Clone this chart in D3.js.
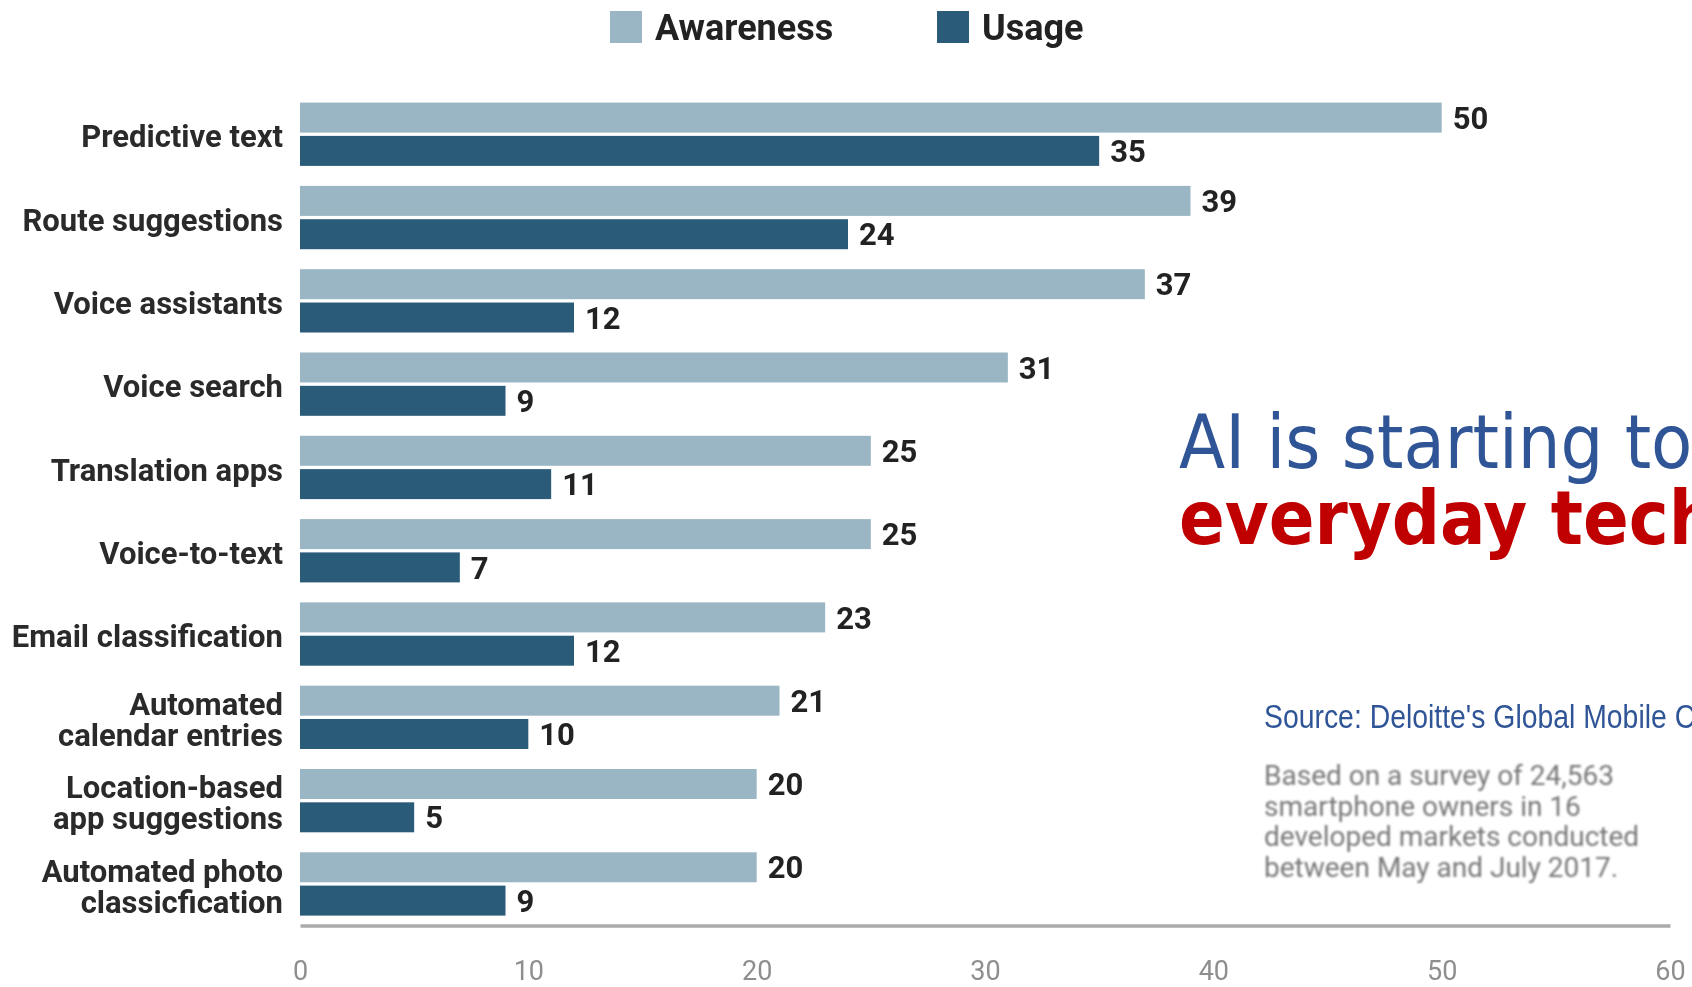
<!DOCTYPE html>
<html>
<head>
<meta charset="utf-8">
<script src="https://cdn.jsdelivr.net/npm/d3@7/dist/d3.min.js"></script>
<style>
  html, body { margin: 0; padding: 0; background: #fff; overflow: hidden; }
  svg { display: block; }
</style>
</head>
<body>
<svg id="chart" width="1692" height="987"></svg>
<script>
// Smartphone AI features: share of respondents aware of / using each feature (%)
const categories = [
  "Predictive text",
  "Route suggestions",
  "Voice assistants",
  "Voice search",
  "Translation apps",
  "Voice-to-text",
  "Email classification",
  "Automated calendar entries",
  "Location-based app suggestions",
  "Automated photo classicfication"
];
const categoryLines = [
  ["Predictive text"],
  ["Route suggestions"],
  ["Voice assistants"],
  ["Voice search"],
  ["Translation apps"],
  ["Voice-to-text"],
  ["Email classification"],
  ["Automated", "calendar entries"],
  ["Location-based", "app suggestions"],
  ["Automated photo", "classicfication"]
];
const seriesNames = ["Awareness", "Usage"];
const awareness = [50, 39, 37, 31, 25, 25, 23, 21, 20, 20];
const usage = [35, 24, 12, 9, 11, 7, 12, 10, 5, 9];
const xTicks = [0, 10, 20, 30, 40, 50, 60];

const titleLine1 = "AI is starting to";
const titleLine2 = "everyday tech";
const sourceText = "Source: Deloitte's Global Mobile Consumer Survey";
const noteLines = [
  "Based on a survey of 24,563",
  "smartphone owners in 16",
  "developed markets conducted",
  "between May and July 2017."
];

const colors = { Awareness: "#9ab5c3", Usage: "#295b79" };

const svg = d3.select("#chart");

const defs = svg.append("defs");
defs.append("filter").attr("id", "soft")
  .attr("x", "-5%").attr("y", "-5%").attr("width", "110%").attr("height", "110%")
  .append("feGaussianBlur").attr("stdDeviation", 0.6);
defs.append("filter").attr("id", "softer")
  .attr("x", "-5%").attr("y", "-10%").attr("width", "110%").attr("height", "120%")
  .append("feGaussianBlur").attr("stdDeviation", 0.9);

const rows = categories.map((c, i) => ({
  category: c,
  lines: categoryLines[i],
  values: [
    { series: "Awareness", value: awareness[i] },
    { series: "Usage", value: usage[i] }
  ]
}));

const x = d3.scaleLinear().domain([0, 60]).range([300, 1670]);
const y = d3.scaleBand().domain(categories).range([92.6, 925.6])
  .paddingInner(0.24).paddingOuter(0.12);
const ySub = d3.scaleBand().domain(seriesNames).range([0, y.bandwidth()]).paddingInner(0.1);

const chart = svg.append("g").attr("filter", "url(#soft)");

// Grouped horizontal bars
const groups = chart.selectAll("g.row").data(rows).join("g")
  .attr("class", "row")
  .attr("transform", d => `translate(0,${y(d.category)})`);

groups.selectAll("rect").data(d => d.values).join("rect")
  .attr("x", x(0))
  .attr("y", d => ySub(d.series))
  .attr("width", d => x(d.value) - x(0))
  .attr("height", ySub.bandwidth())
  .attr("fill", d => colors[d.series]);

// Value labels at the bar ends
groups.selectAll("text.val").data(d => d.values).join("text")
  .attr("class", "val")
  .attr("x", d => x(d.value) + 11)
  .attr("y", d => ySub(d.series) + ySub.bandwidth() / 2)
  .attr("dy", "0.36em")
  .attr("font-family", "Roboto, sans-serif")
  .attr("font-weight", 700)
  .attr("font-size", 31)
  .attr("fill", "#222")
  .text(d => d.value);

// Category labels (right-aligned, wrapped onto two lines where needed)
groups.append("text")
  .attr("class", "cat")
  .attr("text-anchor", "end")
  .attr("font-family", "Roboto, sans-serif")
  .attr("font-weight", 700)
  .attr("font-size", 31)
  .attr("fill", "#2a2a2a")
  .each(function(d) {
    const t = d3.select(this);
    const n = d.lines.length;
    const lh = 31;
    d.lines.forEach((ln, k) => {
      t.append("tspan")
        .attr("x", 283)
        .attr("y", y.bandwidth() / 2 + (k - (n - 1) / 2) * lh + 2)
        .attr("dy", "0.36em")
        .text(ln);
    });
  });

// Bottom axis: grey baseline and tick labels
const axis = d3.axisBottom(x).tickValues(xTicks).tickSize(0).tickSizeOuter(0).tickPadding(35);
const axisG = chart.append("g")
  .attr("transform", `translate(0,${y.range()[1]})`)
  .call(axis);
axisG.select(".domain").attr("stroke", "#ababab").attr("stroke-width", 3.5);
axisG.selectAll(".tick text")
  .attr("font-family", "Roboto, sans-serif")
  .attr("font-size", 27)
  .attr("fill", "#8e8e8e");

// Legend
const legend = chart.append("g");
const legendItems = [
  { name: "Awareness", x: 610 },
  { name: "Usage", x: 937 }
];
const li = legend.selectAll("g").data(legendItems).join("g")
  .attr("transform", d => `translate(${d.x},11)`);
li.append("rect").attr("width", 32).attr("height", 32).attr("fill", d => colors[d.name]);
li.append("text")
  .attr("x", 45).attr("y", 16).attr("dy", "0.36em")
  .attr("font-family", "Roboto, sans-serif")
  .attr("font-weight", 700)
  .attr("font-size", 36)
  .attr("fill", "#222")
  .text(d => d.name);

// Headline
svg.append("text")
  .attr("x", 1179).attr("y", 468)
  .attr("font-family", "'DejaVu Sans Condensed', 'DejaVu Sans', sans-serif")
  .attr("font-stretch", "condensed")
  .attr("font-size", 75)
  .attr("fill", "#2f5597")
  .text(titleLine1);
svg.append("text")
  .attr("x", 1179).attr("y", 544)
  .attr("font-family", "'DejaVu Sans Condensed', 'DejaVu Sans', sans-serif")
  .attr("font-stretch", "condensed")
  .attr("font-weight", 700)
  .attr("font-size", 75)
  .attr("fill", "#c00000")
  .text(titleLine2);

// Source line (narrow face)
svg.append("text")
  .attr("transform", "translate(1264,728) scale(0.86,1)")
  .attr("font-family", "'Liberation Sans', Arial, sans-serif")
  .attr("font-size", 33)
  .attr("fill", "#2f5597")
  .text(sourceText);

// Survey note
svg.append("g").attr("filter", "url(#softer)")
  .selectAll("text").data(noteLines).join("text")
  .attr("x", 1264)
  .attr("y", (d, i) => 785 + i * 30.5)
  .attr("font-family", "Roboto, sans-serif")
  .attr("font-size", 28)
  .attr("fill", "#787878")
  .text(d => d);
</script>
</body>
</html>
